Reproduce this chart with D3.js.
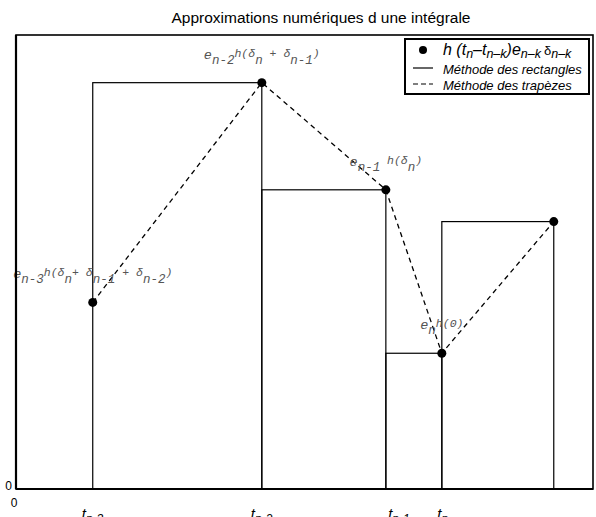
<!DOCTYPE html>
<html>
<head>
<meta charset="utf-8">
<script src="https://cdn.jsdelivr.net/npm/d3@7"></script>
<style>
  html, body { margin: 0; padding: 0; background: #fff; }
  svg { display: block; }
</style>
</head>
<body>
<svg id="chart" width="596" height="517"></svg>
<script>
// Sample instants and weighted values of the integrand
const tValues = [0.133, 0.426, 0.641, 0.738, 0.932];
const fValues = [0.411, 0.895, 0.659, 0.299, 0.589];

// Tick labels under the axis (t with its subscript) and where each starts
const tickBase = ["t", "t", "t", "t"];
const tickSub = ["n-3", "n-2", "n-1", "n"];
const tickStart = [0.114, 0.407, 0.645, 0.730];

// Annotation of each point: pieces of e_{..}^{h(...)} with their level
const pointLabels = [
  [["e", "b"], ["n-3", "s"], ["h(δ", "p"], ["n", "s"], ["+ δ", "p"], ["n-1", "s"], [" + δ", "p"], ["n-2", "s"], [")", "p"]],
  [["e", "b"], ["n-2", "s"], ["h(δ", "p"], ["n", "s"], [" + δ", "p"], ["n-1", "s"], [")", "p"]],
  [["e", "b"], ["n-1", "s"], [" h(δ", "p"], ["n", "s"], [")", "p"]],
  [["e", "b"], ["n", "s"], ["h(0)", "p"]]
];
const labelOf = [0, 1, 2, 3]; // label index for the first four points

const title = "Approximations numériques d une intégrale";
const legendItems = ["Méthode des rectangles", "Méthode des trapèzes"];

const svg = d3.select("#chart");
const x = d3.scaleLinear().domain([0, 1]).range([16, 593]);
const y = d3.scaleLinear().domain([0, 1]).range([489, 35]);

// Title
svg.append("text")
  .attr("x", 321).attr("y", 23)
  .attr("text-anchor", "middle")
  .attr("font-family", "Liberation Sans, Arial, sans-serif")
  .attr("font-size", 15.5)
  .attr("fill", "#000")
  .text(title);

// Rectangle method: each interval takes the value at its right end
const rects = d3.range(tValues.length - 1).map(i => ({
  x0: tValues[i], x1: tValues[i + 1], v: fValues[i + 1]
}));
svg.append("g").selectAll("rect").data(rects).join("rect")
  .attr("x", d => x(d.x0))
  .attr("y", d => y(d.v))
  .attr("width", d => x(d.x1) - x(d.x0))
  .attr("height", d => y(0) - y(d.v))
  .attr("fill", "none")
  .attr("stroke", "#000")
  .attr("stroke-width", 1.2);

// Trapezoid method: dashed polyline through the points
const pts = tValues.map((t, i) => [t, fValues[i]]);
svg.append("path")
  .datum(pts)
  .attr("d", d3.line().x(d => x(d[0])).y(d => y(d[1])))
  .attr("fill", "none")
  .attr("stroke", "#000")
  .attr("stroke-width", 1.3)
  .attr("stroke-dasharray", "5,4");

// Points
svg.append("g").selectAll("circle").data(pts).join("circle")
  .attr("cx", d => x(d[0]))
  .attr("cy", d => y(d[1]))
  .attr("r", 4.5)
  .attr("fill", "#000");

// Point annotations, centred above each point
const sizes = { b: 13.5, s: 12.5, p: 11.5 };
const shifts = { b: 0, s: 5, p: -2 };
labelOf.forEach((li, i) => {
  const txt = svg.append("text")
    .attr("x", x(tValues[i]))
    .attr("y", y(fValues[i]) - 24)
    .attr("text-anchor", "middle")
    .attr("font-family", "Liberation Mono, Courier New, monospace")
    .attr("font-style", "italic")
    .attr("fill", "#555")
    .attr("xml:space", "preserve")
    .style("white-space", "pre");
  let prev = 0;
  pointLabels[li].forEach(([t, k]) => {
    txt.append("tspan")
      .attr("dy", shifts[k] - prev)
      .attr("font-size", sizes[k])
      .text(t);
    prev = shifts[k];
  });
});

// Frame
svg.append("rect")
  .attr("x", x(0)).attr("y", y(1))
  .attr("width", x(1) - x(0)).attr("height", y(0) - y(1))
  .attr("fill", "none")
  .attr("stroke", "#000")
  .attr("stroke-width", 1.6);
svg.append("line")
  .attr("x1", x(0)).attr("x2", x(1)).attr("y1", y(0)).attr("y2", y(0))
  .attr("stroke", "#000").attr("stroke-width", 2.2);
svg.append("line")
  .attr("x1", x(0)).attr("x2", x(0)).attr("y1", y(0)).attr("y2", y(1))
  .attr("stroke", "#000").attr("stroke-width", 2.2);

// Zero labels on both axes
const axisFont = "Liberation Sans, Arial, sans-serif";
svg.append("text")
  .attr("x", x(0) - 4).attr("y", y(0) + 1)
  .attr("text-anchor", "end")
  .attr("font-family", axisFont).attr("font-size", 12)
  .text("0");
svg.append("text")
  .attr("x", x(0) - 2).attr("y", y(0) + 18)
  .attr("text-anchor", "middle")
  .attr("font-family", axisFont).attr("font-size", 12)
  .text("0");

// Time tick labels
tickStart.forEach((v, i) => {
  const t = svg.append("text")
    .attr("x", x(v)).attr("y", 519)
    .attr("font-family", axisFont)
    .attr("font-style", "italic")
    .attr("fill", "#000");
  t.append("tspan").attr("font-size", 15).text(tickBase[i]);
  t.append("tspan").attr("font-size", 12).attr("dy", 4).text(tickSub[i]);
});

// Legend
const lg = svg.append("g");
lg.append("rect")
  .attr("x", 405).attr("y", 39).attr("width", 184).attr("height", 55)
  .attr("fill", "#fff").attr("stroke", "#000").attr("stroke-width", 2);
lg.append("circle").attr("cx", 423).attr("cy", 50).attr("r", 4).attr("fill", "#000");
const l1 = lg.append("text")
  .attr("x", 443).attr("y", 55)
  .attr("font-family", axisFont)
  .attr("font-style", "italic")
  .attr("font-size", 16)
  .attr("xml:space", "preserve")
  .style("white-space", "pre");
const l1parts = [["h (t", 0], ["n", 1], ["–t", 0], ["n–k", 1], [")e", 0], ["n–k", 1], ["δ", 2], ["n–k", 1]];
let prevL = 0;
l1parts.forEach(([t, k]) => {
  const dy = k === 1 ? 3 : 0;
  const sp = l1.append("tspan").attr("dy", dy - prevL).text(t);
  if (k === 1) sp.attr("font-size", 12.5);
  if (k === 2) sp.attr("font-size", 13).attr("font-style", "normal").attr("dx", 3);
  prevL = dy;
});
lg.append("line").attr("x1", 413).attr("x2", 433).attr("y1", 68).attr("y2", 68)
  .attr("stroke", "#000").attr("stroke-width", 1.2);
lg.append("line").attr("x1", 413).attr("x2", 433).attr("y1", 84).attr("y2", 84)
  .attr("stroke", "#000").attr("stroke-width", 1.2).attr("stroke-dasharray", "5,3");
legendItems.forEach((s, i) => {
  lg.append("text")
    .attr("x", 443).attr("y", 74 + i * 16)
    .attr("font-family", axisFont)
    .attr("font-style", "italic")
    .attr("font-size", 13)
    .text(s);
});
</script>
</body>
</html>
